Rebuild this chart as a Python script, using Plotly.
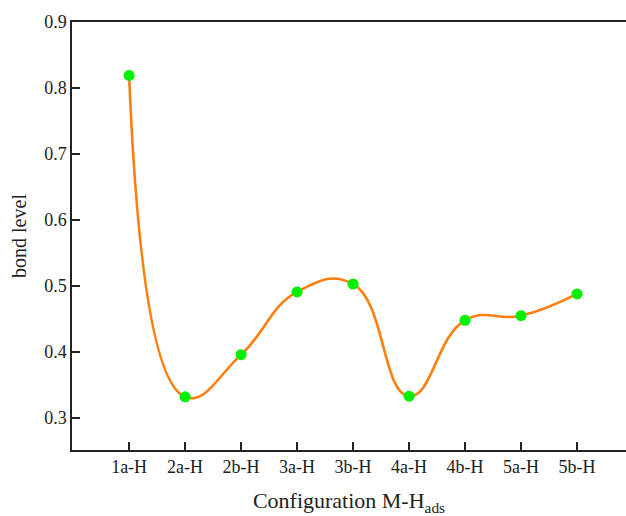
import plotly.graph_objects as go

categories = ["1a-H", "2a-H", "2b-H", "3a-H", "3b-H", "4a-H", "4b-H", "5a-H", "5b-H"]
bond_level = [0.819, 0.332, 0.396, 0.491, 0.503, 0.333, 0.448, 0.455, 0.488]

xpos = list(range(len(categories)))

fig = go.Figure()
fig.add_trace(go.Scatter(
    x=xpos, y=bond_level, mode="lines",
    line=dict(shape="spline", smoothing=1.3, color="#FF7F0E", width=2.6),
    hoverinfo="skip", showlegend=False))
fig.add_trace(go.Scatter(
    x=xpos, y=bond_level, mode="markers",
    marker=dict(color="#00F000", size=11),
    showlegend=False))

font_family = "Liberation Serif"
fig.update_layout(
    width=626, height=516,
    margin=dict(l=72, r=0, t=22, b=66),
    plot_bgcolor="white", paper_bgcolor="white",
    font=dict(family=font_family, color="#222", size=18),
    xaxis=dict(
        range=[-1.02, 8.875], tickmode="array", tickvals=xpos, ticktext=categories,
        showgrid=False, zeroline=False, showline=True, linecolor="#222", linewidth=1.5,
        mirror=True, ticks="inside", ticklen=8, tickwidth=1.5, tickcolor="#222",
        tickfont=dict(size=18, family=font_family),
        title=dict(text="Configuration M-H<sub>ads</sub>", font=dict(size=22, family=font_family), standoff=18),
    ),
    yaxis=dict(
        range=[0.2515, 0.9], tickmode="array", tickvals=[0.3, 0.4, 0.5, 0.6, 0.7, 0.8, 0.9],
        ticktext=["0.3", "0.4", "0.5", "0.6", "0.7", "0.8", "0.9"],
        showgrid=False, zeroline=False, showline=True, linecolor="#222", linewidth=1.5,
        ticks="inside", ticklen=8, tickwidth=1.5, tickcolor="#222",
        tickfont=dict(size=18, family=font_family),
        title=dict(text="bond level", font=dict(size=20, family=font_family), standoff=12),
    ),
)

fig.write_html("out.html")
